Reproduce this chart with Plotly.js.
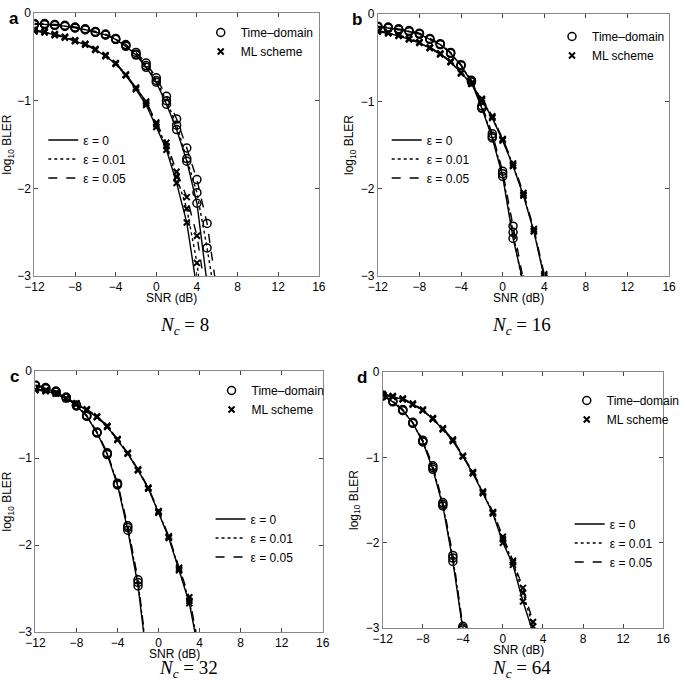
<!DOCTYPE html>
<html>
<head>
<meta charset="utf-8">
<script src="https://cdn.plot.ly/plotly-3.0.1.min.js"></script>
<style>html,body{margin:0;padding:0;background:#fff;}#chart{width:685px;height:690px;}</style>
</head>
<body>
<div id="chart"></div>
<script>
// ---------- data ----------
// Panel a (Nc = 8)
const a_snrTD = [-12,-11,-10,-9,-8,-7,-6,-5,-4,-3,-2,-1,0,1,2,3,4,5,6];
const a_TD_e0   = [-0.13,-0.13,-0.14,-0.15,-0.17,-0.19,-0.22,-0.25,-0.30,-0.38,-0.48,-0.62,-0.79,-1.04,-1.33,-1.69,-2.17,-3.05,-4.0];
const a_TD_e001 = [-0.13,-0.13,-0.14,-0.15,-0.17,-0.19,-0.22,-0.25,-0.30,-0.37,-0.47,-0.60,-0.77,-1.00,-1.28,-1.66,-2.05,-2.68,-3.4];
const a_TD_e005 = [-0.12,-0.12,-0.13,-0.14,-0.16,-0.18,-0.21,-0.24,-0.29,-0.36,-0.45,-0.57,-0.74,-0.95,-1.21,-1.54,-1.90,-2.40,-3.2];
const a_snrML = [-12,-11,-10,-9,-8,-7,-6,-5,-4,-3,-2,-1,0,1,2,3,4,5];
const a_ML_e0   = [-0.21,-0.22,-0.25,-0.28,-0.32,-0.36,-0.42,-0.49,-0.58,-0.71,-0.87,-1.05,-1.30,-1.56,-1.94,-2.39,-3.15,-4.0];
const a_ML_e001 = [-0.21,-0.22,-0.25,-0.28,-0.32,-0.36,-0.42,-0.49,-0.58,-0.71,-0.86,-1.03,-1.27,-1.52,-1.87,-2.23,-2.85,-3.8];
const a_ML_e005 = [-0.20,-0.21,-0.24,-0.27,-0.31,-0.35,-0.41,-0.48,-0.57,-0.70,-0.85,-1.01,-1.25,-1.48,-1.81,-2.10,-2.54,-3.3];

// Panel b (Nc = 16)
const b_snrTD = [-12,-11,-10,-9,-8,-7,-6,-5,-4,-3,-2,-1,0,1,2];
const b_TD_e0   = [-0.15,-0.16,-0.18,-0.20,-0.23,-0.29,-0.35,-0.45,-0.59,-0.78,-1.08,-1.42,-1.86,-2.57,-3.08];
const b_TD_e001 = [-0.15,-0.16,-0.18,-0.20,-0.23,-0.29,-0.35,-0.45,-0.59,-0.77,-1.07,-1.40,-1.83,-2.50,-3.15];
const b_TD_e005 = [-0.14,-0.15,-0.17,-0.19,-0.22,-0.28,-0.34,-0.44,-0.58,-0.76,-1.05,-1.37,-1.80,-2.43,-3.05];
const b_snrML = [-12,-11,-10,-9,-8,-7,-6,-5,-4,-3,-2,-1,0,1,2,3,4];
const b_ML_e0   = [-0.20,-0.22,-0.25,-0.29,-0.33,-0.39,-0.46,-0.55,-0.68,-0.80,-0.99,-1.19,-1.45,-1.74,-2.08,-2.49,-3.02];
const b_ML_e001 = [-0.20,-0.22,-0.25,-0.29,-0.33,-0.39,-0.46,-0.55,-0.68,-0.80,-0.98,-1.18,-1.44,-1.73,-2.07,-2.48,-3.00];
const b_ML_e005 = [-0.19,-0.21,-0.24,-0.28,-0.32,-0.38,-0.45,-0.54,-0.67,-0.79,-0.97,-1.17,-1.43,-1.71,-2.05,-2.46,-2.98];

// Panel c (Nc = 32)
const c_snrTD = [-12,-11,-10,-9,-8,-7,-6,-5,-4,-3,-2,-1];
const c_TD_e0   = [-0.17,-0.20,-0.24,-0.31,-0.40,-0.52,-0.71,-0.96,-1.31,-1.83,-2.47,-3.45];
const c_TD_e001 = [-0.17,-0.20,-0.24,-0.31,-0.40,-0.52,-0.71,-0.95,-1.30,-1.80,-2.43,-3.42];
const c_TD_e005 = [-0.16,-0.19,-0.23,-0.30,-0.39,-0.51,-0.70,-0.94,-1.29,-1.78,-2.40,-3.40];
const c_snrML = [-12,-11,-10,-9,-8,-7,-6,-5,-4,-3,-2,-1,0,1,2,3,4];
const c_ML_e0   = [-0.22,-0.23,-0.26,-0.32,-0.38,-0.45,-0.53,-0.64,-0.79,-0.95,-1.14,-1.35,-1.63,-1.92,-2.29,-2.67,-3.28];
const c_ML_e001 = [-0.22,-0.23,-0.26,-0.32,-0.38,-0.45,-0.53,-0.64,-0.79,-0.95,-1.14,-1.35,-1.62,-1.91,-2.28,-2.64,-3.25];
const c_ML_e005 = [-0.21,-0.22,-0.25,-0.31,-0.37,-0.44,-0.52,-0.63,-0.78,-0.94,-1.13,-1.34,-1.61,-1.90,-2.26,-2.60,-3.22];

// Panel d (Nc = 64)
const d_snrTD = [-12,-11,-10,-9,-8,-7,-6,-5,-4];
const d_TD_e0   = [-0.28,-0.35,-0.45,-0.60,-0.82,-1.14,-1.57,-2.22,-3.02];
const d_TD_e001 = [-0.28,-0.34,-0.45,-0.60,-0.81,-1.12,-1.55,-2.18,-3.00];
const d_TD_e005 = [-0.27,-0.34,-0.44,-0.59,-0.80,-1.10,-1.53,-2.15,-2.98];
const d_snrML = [-12,-11,-10,-9,-8,-7,-6,-5,-4,-3,-2,-1,0,1,2,3];
const d_ML_e0   = [-0.27,-0.29,-0.32,-0.38,-0.45,-0.55,-0.67,-0.81,-0.99,-1.19,-1.42,-1.66,-2.00,-2.26,-2.69,-3.05];
const d_ML_e001 = [-0.27,-0.29,-0.32,-0.38,-0.45,-0.55,-0.67,-0.80,-0.99,-1.18,-1.41,-1.65,-1.96,-2.23,-2.59,-2.98];
const d_ML_e005 = [-0.26,-0.28,-0.31,-0.37,-0.44,-0.54,-0.66,-0.79,-0.98,-1.17,-1.40,-1.64,-1.93,-2.21,-2.53,-2.93];

// labels
const panelLetters = ['a','b','c','d'];
const captions = ['8','16','32','64'];
const epsNames = ['\u03b5 = 0','\u03b5 = 0.01','\u03b5 = 0.05'];
const schemeNames = ['Time\u2013domain','ML scheme'];
const xTitle = 'SNR (dB)';
const yTitle = 'log<sub>10</sub> BLER';
const xTicks = [-12,-8,-4,0,4,8,12,16];
const yTicks = [0,-1,-2,-3];

// ---------- styling ----------
const FONT = 'Liberation Sans, Arial, Helvetica, sans-serif';
const dashes = ['solid','dot','dash'];
const tdMarker = {symbol:'circle-open', size:8, color:'#000', line:{width:1.5, color:'#000'}};
const mlMarker = {symbol:'x-thin', size:6, color:'#000', line:{width:2, color:'#000'}};

const panels = [
  {ax:'', snrTD:a_snrTD, td:[a_TD_e0,a_TD_e001,a_TD_e005], snrML:a_snrML, ml:[a_ML_e0,a_ML_e001,a_ML_e005]},
  {ax:'2', snrTD:b_snrTD, td:[b_TD_e0,b_TD_e001,b_TD_e005], snrML:b_snrML, ml:[b_ML_e0,b_ML_e001,b_ML_e005]},
  {ax:'3', snrTD:c_snrTD, td:[c_TD_e0,c_TD_e001,c_TD_e005], snrML:c_snrML, ml:[c_ML_e0,c_ML_e001,c_ML_e005]},
  {ax:'4', snrTD:d_snrTD, td:[d_TD_e0,d_TD_e001,d_TD_e005], snrML:d_snrML, ml:[d_ML_e0,d_ML_e001,d_ML_e005]}
];

// pixel geometry of the panels -> paper domains
const W = 685, H = 690;
const boxes = [
  {l:35, r:324, t:13, b:276},
  {l:384, r:680, t:14, b:276},
  {l:36, r:328, t:371, b:632},
  {l:389, r:674, t:372, b:628}
];
// legend placements (pixels): marker legend left/center-y, line legend left/center-y
const legPos = [
  {m:[204,42], e:[44,159]},
  {m:[561,46], e:[393,159]},
  {m:[215,400], e:[214,538]},
  {m:[576,410], e:[579,543]}
];
const captionPos = [[188,326],[530,326],[192,669],[530,669]];

const traces = [];
const layout = {
  width: W, height: H,
  margin: {l:0, r:0, t:0, b:0},
  paper_bgcolor: '#fff', plot_bgcolor: '#fff',
  showlegend: true,
  font: {family: FONT, size: 12, color: '#000'},
  annotations: []
};

panels.forEach((p, i) => {
  const xa = 'x' + p.ax, ya = 'y' + p.ax;
  // data curves
  p.td.forEach((vals, k) => {
    traces.push({x:p.snrTD, y:vals, xaxis:xa, yaxis:ya, type:'scatter', mode:'lines+markers',
      line:{color:'#000', width:1.4, dash:dashes[k]}, marker:tdMarker, showlegend:false, hoverinfo:'skip'});
  });
  p.ml.forEach((vals, k) => {
    traces.push({x:p.snrML, y:vals, xaxis:xa, yaxis:ya, type:'scatter', mode:'lines+markers',
      line:{color:'#000', width:1.4, dash:dashes[k]}, marker:mlMarker, showlegend:false, hoverinfo:'skip'});
  });
  // legend entries
  const lm = 'legend' + (i === 0 ? '' : String(2*i+1));
  const le = 'legend' + String(2*i+2);
  traces.push({x:[null], y:[null], xaxis:xa, yaxis:ya, type:'scatter', mode:'markers', marker:tdMarker, name:schemeNames[0], legend:lm});
  traces.push({x:[null], y:[null], xaxis:xa, yaxis:ya, type:'scatter', mode:'markers', marker:mlMarker, name:schemeNames[1], legend:lm});
  epsNames.forEach((nm, k) => {
    traces.push({x:[null], y:[null], xaxis:xa, yaxis:ya, type:'scatter', mode:'lines', line:{color:'#000', width:1.4, dash:dashes[k]}, name:nm, legend:le});
  });
  const legCommon = {xanchor:'left', yanchor:'middle', bgcolor:'rgba(0,0,0,0)', borderwidth:0,
    font:{family:FONT, size:12, color:'#000'}, itemwidth:30, traceorder:'normal', itemclick:false, itemdoubleclick:false};
  layout[lm] = Object.assign({}, legCommon, {x: legPos[i].m[0]/W, y: 1 - legPos[i].m[1]/H});
  layout[le] = Object.assign({}, legCommon, {x: legPos[i].e[0]/W, y: 1 - legPos[i].e[1]/H});

  const bx = boxes[i];
  layout['xaxis' + p.ax] = {
    domain: [bx.l/W, bx.r/W], anchor: ya, range: [-12, 16],
    tickmode: 'array', tickvals: xTicks,
    ticks: 'inside', ticklen: 4, tickwidth: 1, tickcolor: '#444',
    showline: true, linecolor: '#888', linewidth: 1, mirror: 'ticks',
    showgrid: false, zeroline: false,
    tickfont: {family: FONT, size: 12, color: '#000'},
    fixedrange: true
  };
  layout['yaxis' + p.ax] = {
    domain: [1 - bx.b/H, 1 - bx.t/H], anchor: xa, range: [-3, 0],
    tickmode: 'array', tickvals: yTicks,
    ticks: 'inside', ticklen: 4, tickwidth: 1, tickcolor: '#444',
    showline: true, linecolor: '#888', linewidth: 1, mirror: 'ticks',
    showgrid: false, zeroline: false,
    tickfont: {family: FONT, size: 12, color: '#000'},
    title: {text: yTitle, standoff: 4, font: {family: FONT, size: 12, color: '#000'}},
    fixedrange: true
  };
  // x-axis title placed close under the tick labels, as in the reference
  layout.annotations.push({xref:'paper', yref:'paper', x:((bx.l + bx.r)/2 - 5)/W, y:1 - (bx.b + 22)/H,
    xanchor:'center', yanchor:'middle', showarrow:false, text:xTitle, font:{family:FONT, size:12, color:'#000'}});
  // panel letter
  layout.annotations.push({xref:'paper', yref:'paper', x:(bx.l - 28)/W, y:1 - (bx.t - 6)/H, xanchor:'left', yanchor:'top',
    text:'<b>' + panelLetters[i] + '</b>', showarrow:false, font:{family:FONT, size:17, color:'#000'}});
  // caption
  layout.annotations.push({xref:'paper', yref:'paper', x:captionPos[i][0]/W, y:1 - captionPos[i][1]/H,
    xanchor:'center', yanchor:'middle', showarrow:false,
    text:'<i>N</i><sub><i>c</i></sub> = ' + captions[i], font:{family:'Liberation Serif, DejaVu Serif, serif', size:19, color:'#000'}});
});

Plotly.newPlot('chart', traces, layout, {staticPlot: true, displayModeBar: false});
</script>
</body>
</html>
